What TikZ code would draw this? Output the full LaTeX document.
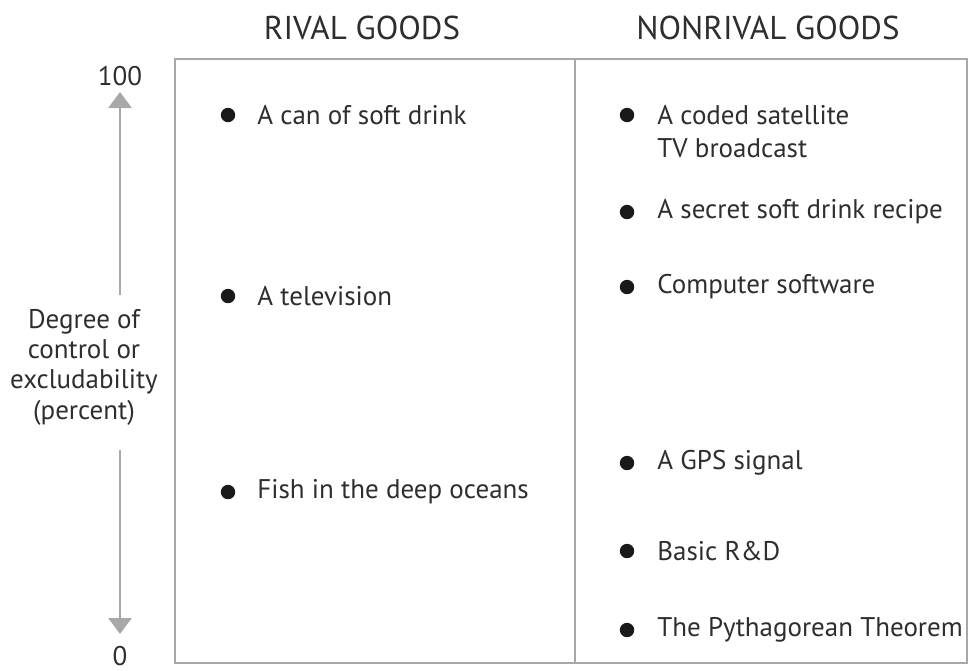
\documentclass[tikz,border=0pt]{standalone}
\usepackage{fontspec}
\setmainfont{PT Sans}
\usetikzlibrary{arrows.meta, positioning}
\definecolor{txtgray}{HTML}{2E2E2E}
\definecolor{linegray}{HTML}{A8A8A8}

\begin{document}
\begin{tikzpicture}[x=0.5pt, y=-0.5pt,
  hdr/.style={text=txtgray, font=\fontsize{16.5}{19}\selectfont},
  item/.style={anchor=west, inner sep=0pt, text=txtgray, align=left,
    font=\fontsize{13.5}{16.5}\selectfont},
  dot/.style={fill=black!90}]
\useasboundingbox (0,0) rectangle (972,670);

% Column headings
\node[hdr] (rival) at (362,28) {RIVAL GOODS};
\node[hdr] (nonrival) at (768,28) {NONRIVAL GOODS};

% Frame and divider
\draw[linegray, line width=1.3pt] (175,59) rectangle (967,663);
\draw[linegray, line width=1.3pt] (575,59) -- (575,663);

% Vertical axis
\node[text=txtgray, font=\fontsize{13.5}{15}\selectfont, inner sep=0pt] (top) at (120,76) {100};
\node[text=txtgray, font=\fontsize{13.5}{15}\selectfont, inner sep=0pt] (bot) at (120,656) {0};
\node[text=txtgray, align=center, font=\fontsize{13.5}{15.2}\selectfont] (axis) at (84,367)
  {Degree of\\control or\\excludability\\(percent)};
\coordinate (upA) at (120,295);
\coordinate (upB) at (120,92);
\coordinate (dnA) at (120,450);
\coordinate (dnB) at (120,634);
\draw[linegray, line width=1.4pt, -{Triangle[width=11.5pt, length=8pt]}] (upA) -- (upB);
\draw[linegray, line width=1.4pt, -{Triangle[width=11.5pt, length=8pt]}] (dnA) -- (dnB);

% Rival goods
\foreach \y/\name/\txt in {115/can/A can of soft drink,
                           296/tv/A television,
                           492/fish/Fish in the deep oceans} {
  \fill[dot] (228,\y) circle [radius=3.6pt];
  \node[item] (\name) at (257,\y) {\txt};
}

% Nonrival goods
\fill[dot] (627,115) circle [radius=3.6pt];
\node[item, anchor=north west] (sat) at (657,105) {A coded satellite\\TV broadcast};
\foreach \y/\name/\txt in {212/recipe/A secret soft drink recipe,
                           287/soft/Computer software,
                           463/gps/A GPS signal,
                           551/rnd/Basic R\&D,
                           630/pyth/The Pythagorean Theorem} {
  \fill[dot] (627,\y) circle [radius=3.6pt];
  \node[item] (\name) at (657,\y) {\txt};
}
\end{tikzpicture}
\end{document}
